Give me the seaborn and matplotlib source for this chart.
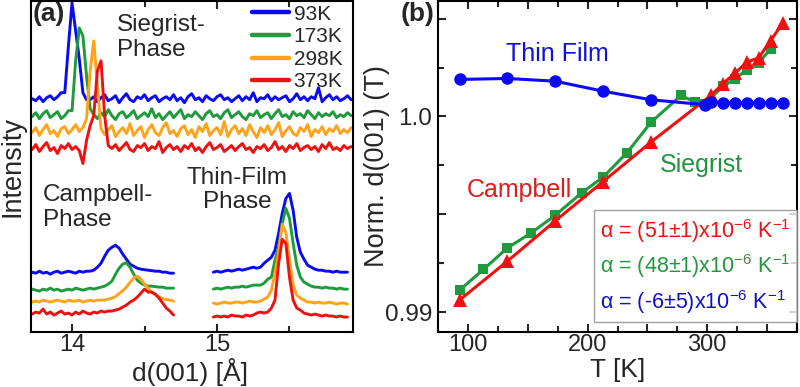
import numpy as np
import pandas as pd
import matplotlib
matplotlib.use("Agg")
import matplotlib.pyplot as plt
import seaborn as sns
from matplotlib.ticker import MultipleLocator, FuncFormatter, NullLocator
from matplotlib.lines import Line2D

# ---------------- data: panel (a) XRD scans (offset, arbitrary units) ----------------
STEP = 0.025
D0_SIEG = 13.725          # Siegrist-phase window start [Å]
D0_CAMP = 13.725          # Campbell-phase window start [Å]
D0_TF = 14.975            # Thin-film-phase window start [Å]

temps_a = ["93K", "173K", "298K", "373K"]

sieg_93 = [234, 232, 236, 231, 235, 237, 233, 236, 240,
           240, 287, 330, 302, 274, 240, 233,
           233, 236, 231, 235, 238, 232, 234, 237, 230, 235,
           239, 233, 231, 236, 234, 238, 232, 235, 237, 231,
           234, 236, 233, 238, 232, 235, 230, 236, 239, 233,
           235, 231, 237, 234, 232, 236, 238, 233, 235, 231,
           234, 237, 232, 236, 233, 240, 231, 235, 234, 238,
           232, 236, 233, 235, 237, 231, 234, 239, 233, 236,
           232, 236, 234, 245, 231, 235, 238, 233, 236, 232,
           234, 237, 233]
sieg_173 = [216, 220, 214, 219, 222, 215, 218, 221, 214, 217, 222,
            222, 272, 305, 297, 257, 224,
            218, 214, 220, 216, 223, 217, 213, 219, 221, 215,
            218, 222, 214, 217, 220, 216, 224, 215, 219, 213,
            217, 221, 215, 219, 223, 214, 218, 216, 221, 217,
            213, 219, 222, 216, 218, 214, 220, 223, 215, 218,
            221, 216, 213, 219, 217, 222, 215, 218, 220, 214,
            219, 223, 216, 218, 214, 221, 217, 219, 215, 222,
            218, 214, 220, 216, 219, 217, 221, 215, 218, 216,
            220, 217]
sieg_298 = [200, 205, 197, 203, 208, 199, 202, 196, 204, 206, 199, 203, 208, 201, 205,
            214, 262, 292, 247, 204,
            198, 203, 207, 196, 201, 205, 199, 209, 197, 202,
            206, 195, 203, 208, 200, 197, 205, 210, 199, 202,
            196, 204, 207, 198, 203, 195, 206, 201, 209, 197,
            202, 205, 198, 211, 196, 203, 207, 199, 204, 197,
            208, 201, 195, 205, 200, 207, 198, 203, 210, 196,
            202, 206, 199, 197, 205, 201, 208, 196, 203, 200,
            206, 198, 204, 201, 207, 199, 203, 200, 205]
sieg_373 = [183, 188, 181, 186, 190, 182, 185, 179, 187, 184, 189, 183, 186,
            182, 169, 192, 207, 217, 262, 272, 217, 187,
            184, 188, 182, 186, 190, 183, 181, 187, 185, 189,
            182, 186, 184, 191, 180, 185, 188, 183, 186, 181,
            187, 184, 189, 182, 185, 180, 186, 190, 183, 185,
            188, 181, 184, 187, 182, 186, 189, 183, 185, 180,
            186, 184, 188, 182, 185, 191, 183, 186, 181, 187,
            184, 189, 182, 185, 187, 183, 186, 181, 188, 184,
            190, 183, 185, 182, 187, 184, 186]

camp_93 = [60, 59, 61, 59, 60, 58, 60, 61, 59, 60, 61, 60, 59, 61, 60, 61,
           61, 62, 65, 69, 76, 82, 85, 87, 84, 78, 73, 68, 66, 64, 63, 62.5,
           62, 61.5, 61, 61, 60, 60, 59, 59]
camp_173 = [43, 42, 41, 43, 42, 44, 42, 43, 41, 42, 43, 42, 44, 43, 42, 43, 44, 43, 44, 45,
            46, 48, 51, 58, 64, 68, 69.5, 65, 58, 52, 49, 47, 46, 46, 45.5, 45, 45, 44, 44, 44]
camp_298 = [30, 31, 30, 32, 31, 30, 31, 32, 31, 30, 32, 31, 31, 32, 30, 31, 32, 31, 32, 32,
            32, 33, 34, 35.5, 38.5, 41.5, 45, 50, 54, 56, 53, 48, 44, 40, 37, 35, 33.5, 32.5, 32, 31]
camp_373 = [18, 20, 19, 23, 18, 20, 17, 19, 21, 18, 19, 17, 20, 18, 21, 19, 18, 20, 19, 21,
            20, 21, 21, 22, 23, 25, 27, 30, 32, 35, 39, 43, 40, 40, 38, 34, 29, 24, 21, 17]

tf_93 = [60, 61, 60, 61, 62, 61, 62, 63, 62, 63, 64, 65, 64, 65, 69, 72, 75, 82, 99, 119,
         134, 139, 122, 95, 80, 73, 67, 65, 63, 62, 62, 61, 61, 60, 61, 60, 60, 60]
tf_173 = [43, 44, 43, 44, 45, 44, 45, 45, 46, 45, 46, 47, 47, 47, 49, 53, 55, 72, 85, 109,
          124, 114, 89, 67, 55, 50, 48, 46, 45, 45, 44, 45, 44, 44, 43, 44, 43, 43]
tf_298 = [29, 28, 29, 30, 29, 29, 30, 30, 29, 30, 31, 30, 30, 31, 33, 35, 42, 59, 80, 108,
          100, 72, 47, 37, 34, 32, 30, 30, 29, 30, 29, 29, 30, 29, 28, 29, 29, 28]
tf_373 = [15, 16, 15, 16, 15, 17, 16, 16, 15, 17, 16, 17, 19, 20, 19, 20, 24, 32, 69, 93,
          89, 55, 32, 24, 22, 19, 18, 17, 18, 17, 16, 17, 16, 16, 15, 16, 15, 15]

# ---------------- data: panel (b) normalised d(001) vs T ----------------
T_thin = [93, 133, 173, 213, 253, 298, 303, 313, 323, 333, 343, 353, 363]
d_thin = [1.00189, 1.00194, 1.00180, 1.00129, 1.00085, 1.00060, 1.00073,
          1.00070, 1.00070, 1.00070, 1.00070, 1.00070, 1.00070]
T_sieg = [93, 113, 133, 153, 173, 195, 213, 233, 253, 278, 290, 298, 313, 323, 333, 343, 353]
d_sieg = [0.99112, 0.99218, 0.99328, 0.99405, 0.99495, 0.99609, 0.99690, 0.99815,
          0.99970, 1.00107, 1.00073, 1.00065, 1.00153, 1.00192, 1.00238, 1.00275, 1.00345]
T_camp = [93, 133, 173, 213, 253, 303, 313, 323, 333, 343, 353, 363]
d_camp = [0.99061, 0.99260, 0.99466, 0.99667, 0.99869, 1.00107, 1.00167,
          1.00220, 1.00277, 1.00300, 1.00388, 1.00476]
alpha_labels = ["α = (51±1)x10$^{-6}$ K$^{-1}$",
                "α = (48±1)x10$^{-6}$ K$^{-1}$",
                "α = (-6±5)x10$^{-6}$ K$^{-1}$"]

# ---------------- style ----------------
BLUE, GREEN, ORANGE, RED = "#0a0af5", "#1f9a3c", "#ffa31a", "#ee1111"
cols = [BLUE, GREEN, ORANGE, RED]

sns.set_theme(style="ticks")
plt.rcParams["font.family"] = ["Liberation Sans", "DejaVu Sans"]
plt.rcParams["mathtext.fontset"] = "custom"
plt.rcParams["mathtext.rm"] = "Liberation Sans"
plt.rcParams["mathtext.default"] = "regular"
plt.rcParams["axes.linewidth"] = 1.5

fig = plt.figure(figsize=(8, 3.87), dpi=100)
ax1 = fig.add_axes([31 / 800, 55 / 387, 322 / 800, 331 / 387])
ax2 = fig.add_axes([438 / 800, 55 / 387, 359 / 800, 331 / 387])


def draw(ax, x, y, color, **kw):
    df = pd.DataFrame({"x": np.asarray(x, float), "y": np.asarray(y, float)})
    sns.lineplot(data=df, x="x", y="y", color=color, ax=ax,
                 estimator=None, sort=False, **kw)
    return ax.lines[-1]


# ---------------- panel (a) ----------------
handles = []
groups = [(D0_SIEG, [sieg_93, sieg_173, sieg_298, sieg_373]),
          (D0_CAMP, [camp_93, camp_173, camp_298, camp_373]),
          (D0_TF, [tf_93, tf_173, tf_298, tf_373])]
for gi, (d0, series) in enumerate(groups):
    for c, vals in zip(cols, series):
        d = d0 + STEP * np.arange(len(vals))
        ln = draw(ax1, d, vals, c, linewidth=2.1)
        if gi == 0:
            handles.append(ln)

ax1.set_xlim(13.717, 15.938)
ax1.set_ylim(0, 332)
ax1.xaxis.set_major_locator(MultipleLocator(1))
ax1.xaxis.set_minor_locator(MultipleLocator(0.5))
ax1.xaxis.set_major_formatter(FuncFormatter(lambda v, p: f"{v:.0f}"))
ax1.yaxis.set_major_locator(NullLocator())
ax1.tick_params(axis="x", which="both", direction="in", top=True, labelsize=17,
                width=1.5, pad=1.5)
ax1.tick_params(axis="x", which="major", length=6)
ax1.tick_params(axis="x", which="minor", length=4)
ax1.set_xlabel("d(001) [Å]", fontsize=19)
ax1.set_ylabel("Intensity", fontsize=19.5)
ax1.xaxis.set_label_coords(0.494, -0.079)
ax1.yaxis.set_label_coords(-0.018, 0.5)

leg1 = ax1.legend(handles, temps_a, loc="upper left", bbox_to_anchor=(0.68, 0.995),
                  frameon=False, fontsize=15, handlelength=1.75, handletextpad=0.25,
                  labelspacing=0.17, borderpad=0.0, borderaxespad=0.1)
for l in leg1.get_lines():
    l.set_linewidth(3.2)

ax1.text(0.267, 0.96, "Siegrist-\nPhase", transform=ax1.transAxes, fontsize=17.5,
         ha="left", va="top", linespacing=1.15)
ax1.text(0.037, 0.447, "Campbell-\nPhase", transform=ax1.transAxes, fontsize=17.5,
         ha="left", va="top", linespacing=1.15)
ax1.text(0.641, 0.50, "Thin-Film\nPhase", transform=ax1.transAxes, fontsize=17.5,
         ha="center", va="top", multialignment="center", linespacing=1.15)
ax1.text(0.005, 0.96, "(a)", transform=ax1.transAxes, fontsize=19, fontweight="bold",
         ha="left", va="center")

# ---------------- panel (b) ----------------
draw(ax2, T_sieg, d_sieg, GREEN, linewidth=2.2, marker="s", markersize=7,
     markeredgewidth=0)
draw(ax2, T_camp, d_camp, RED, linewidth=2.2, marker="^", markersize=10,
     markeredgewidth=0)
draw(ax2, T_thin, d_thin, BLUE, linewidth=2.2, marker="o", markersize=9,
     markeredgewidth=0)

ax2.set_xlim(75, 375)
ax2.set_ylim(0.98898, 1.0059)
ax2.xaxis.set_major_locator(MultipleLocator(50))
ax2.xaxis.set_minor_locator(MultipleLocator(25))
ax2.xaxis.set_major_formatter(FuncFormatter(
    lambda v, p: f"{v:.0f}" if abs(v % 100) < 1e-6 else ""))
ax2.yaxis.set_major_locator(MultipleLocator(0.005))
ax2.yaxis.set_minor_locator(MultipleLocator(0.0025))


def yfmt(v, p):
    if abs(v - 1.0) < 1e-9:
        return "1.0"
    if abs(v - 0.99) < 1e-9:
        return "0.99"
    return ""


ax2.yaxis.set_major_formatter(FuncFormatter(yfmt))
ax2.tick_params(which="both", direction="in", top=True, right=True, labelsize=17.5,
                width=1.5)
ax2.tick_params(which="major", length=6)
ax2.tick_params(which="minor", length=4)
ax2.tick_params(axis="x", pad=1.5, labelsize=17)
ax2.tick_params(axis="y", pad=4)
ax2.set_xlabel("T [K]", fontsize=19)
ax2.set_ylabel("Norm. d(001) (T)", fontsize=19.5)
ax2.xaxis.set_label_coords(0.5, -0.079)
ax2.yaxis.set_label_coords(-0.135, 0.5)

ax2.text(174.5, 1.00321, "Thin Film", color="#1010d8", fontsize=18,
         ha="center", va="center")
ax2.text(143, 0.99622, "Campbell", color="#dd1c1c", fontsize=18,
         ha="center", va="center")
ax2.text(295.5, 0.99750, "Siegrist", color="#239440", fontsize=18,
         ha="center", va="center")
ax2.text(-0.105, 0.96, "(b)", transform=ax2.transAxes, fontsize=19,
         fontweight="bold", ha="left", va="center")

blank = [Line2D([], [], linestyle="none") for _ in alpha_labels]
leg2 = ax2.legend(blank, alpha_labels, loc="lower right", bbox_to_anchor=(1.0, 0.03),
                  frameon=True, fancybox=False, edgecolor="#888888", fontsize=15.5,
                  handlelength=0, handletextpad=0, labelspacing=0.35, borderpad=0.3,
                  borderaxespad=0.0, labelcolor=[RED, GREEN, "#1010c8"])
leg2.get_frame().set_linewidth(1.0)

for ax in (ax1, ax2):
    for s in ax.spines.values():
        s.set_visible(True)
        s.set_color("black")
        s.set_linewidth(1.5)

fig.savefig("out.png", dpi=100)
